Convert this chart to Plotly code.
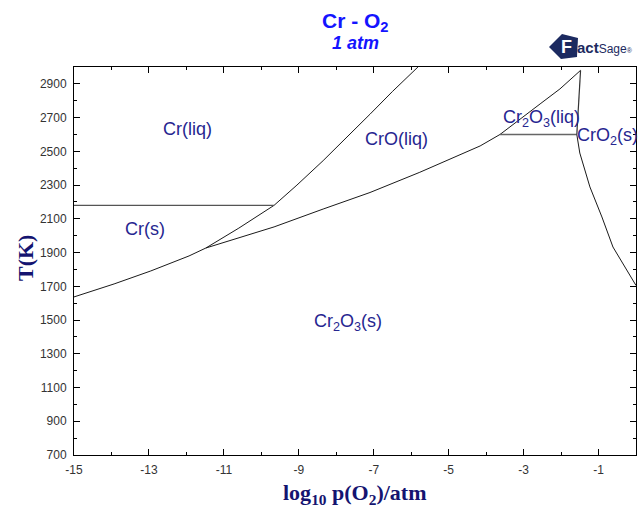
import plotly.graph_objects as go

# ---------------- data ----------------
# Cr(s) / Cr2O3(s) boundary up to the eutectic-like point
cr_s_x = [-15.0, -13.93, -12.95, -11.93, -11.48]
cr_s_T = [1637, 1714, 1791, 1880, 1927]

# CrO(liq) / Cr2O3 boundary (lower branch, continuing to top)
cro_x = [-11.48, -9.66, -8.35, -7.10, -5.77, -4.89, -4.16, -3.63, -3.10, -2.56, -2.03, -1.48]
cro_T = [1927, 2052, 2158, 2256, 2376, 2460, 2532, 2600, 2692, 2781, 2870, 2980]

# Cr(s)/Cr(liq) / CrO(liq) boundary (upper branch)
crliq_x = [-11.48, -10.6, -9.66, -9.05, -8.35, -7.70, -7.10, -6.50, -5.82]
crliq_T = [1927, 2045, 2180, 2300, 2445, 2585, 2720, 2855, 3000]

# Cr melting line
crmelt_x = [-15.0, -9.66]
crmelt_T = [2180, 2180]

# Cr2O3 melting line
cr2o3melt_x = [-3.63, -1.58]
cr2o3melt_T = [2600, 2600]

# Cr2O3(liq) / CrO2(s) upper line
top_x = [-1.48, -1.58]
top_T = [2980, 2600]

# CrO2(s) / Cr2O3(s) boundary
cro2_x = [-1.58, -1.50, -1.23, -0.91, -0.615, -0.03, 0.0]
cro2_T = [2600, 2490, 2289, 2111, 1933, 1720, 1705]

# phase labels
label_text = ["Cr(liq)", "Cr(s)", "CrO(liq)", "Cr<sub>2</sub>O<sub>3</sub>(liq)",
              "Cr<sub>2</sub>O<sub>3</sub>(s)"]
label_x = [-11.96, -13.1, -6.38, -2.51, -7.69]
label_T = [2632, 2040, 2573, 2692, 1488]
cro2_label = "CrO<sub>2</sub>(s)"
cro2_label_x = -1.62
cro2_label_T = 2591

x_tickvals = [-15, -13, -11, -9, -7, -5, -3, -1]
x_ticktext = ["-15", "-13", "-11", "-9", "-7", "-5", "-3", "-1"]
y_tickvals = [700, 900, 1100, 1300, 1500, 1700, 1900, 2100, 2300, 2500, 2700, 2900]
y_ticktext = [str(v) for v in y_tickvals]

# ---------------- layout constants ----------------
W, H = 639, 512
L, R, T, B = 74, 3, 67, 57
PW = W - L - R
PH = H - T - B


def px(xp):
    return (xp - L) / PW


def py(yp):
    return (H - B - yp) / PH


fig = go.Figure()

line_col = "#1a1a1a"
for xs, ts, col, w in [
    (cr_s_x, cr_s_T, line_col, 1),
    (cro_x, cro_T, line_col, 1),
    (crliq_x, crliq_T, line_col, 1),
    (crmelt_x, crmelt_T, "#555555", 1.1),
    (cr2o3melt_x, cr2o3melt_T, "#666666", 1.4),
    (top_x, top_T, "#333333", 1.2),
    (cro2_x, cro2_T, line_col, 1),
]:
    fig.add_trace(go.Scatter(x=xs, y=ts, mode="lines",
                             line=dict(color=col, width=w),
                             showlegend=False, hoverinfo="skip"))

lab_font = dict(family="Liberation Sans, Arial", size=18, color="#262690")
for t, x, y in zip(label_text, label_x, label_T):
    fig.add_annotation(x=x, y=y, text=t, showarrow=False, font=lab_font,
                       xanchor="center", yanchor="middle")
fig.add_annotation(x=cro2_label_x, y=cro2_label_T, text=cro2_label, showarrow=False,
                   font=lab_font, xanchor="left", yanchor="middle")

# titles
fig.add_annotation(xref="paper", yref="paper", x=px(355), y=py(22),
                   text="<b>Cr - O<sub>2</sub></b>", showarrow=False,
                   font=dict(family="Liberation Sans, Arial", size=21, color="#1414ff"),
                   xanchor="center", yanchor="middle")
fig.add_annotation(xref="paper", yref="paper", x=px(355), y=py(43),
                   text="<b><i>1 atm</i></b>", showarrow=False,
                   font=dict(family="Liberation Sans, Arial", size=18, color="#1414ff"),
                   xanchor="center", yanchor="middle")

# axis titles
axis_title_font = dict(family="Liberation Serif, Times New Roman", size=22, color="#141470")
fig.add_annotation(xref="paper", yref="paper", x=px(355), y=py(494),
                   text="<b>log<sub>10</sub> p(O<sub>2</sub>)/atm</b>", showarrow=False,
                   font=axis_title_font, xanchor="center", yanchor="middle")
fig.add_annotation(xref="paper", yref="paper", x=px(25), y=py(258),
                   text="<b>T(K)</b>", showarrow=False, textangle=-90,
                   font=axis_title_font, xanchor="center", yanchor="middle")

# FactSage logo
pts = [(549, 47), (562, 34), (578, 38), (577, 57), (561, 59)]
path = "M " + " L ".join(f"{px(a):.4f},{py(b):.4f}" for a, b in pts) + " Z"
fig.add_shape(type="path", path=path, xref="paper", yref="paper",
              fillcolor="#1c2a60", line=dict(width=0))
fig.add_annotation(xref="paper", yref="paper", x=px(566), y=py(47),
                   text="<b>F</b>", showarrow=False,
                   font=dict(family="Liberation Sans, Arial", size=18, color="white"),
                   xanchor="center", yanchor="middle")
fig.add_annotation(xref="paper", yref="paper", x=px(575), y=py(48),
                   text="<b>act</b><span style='font-size:12px'>Sage</span>"
                        "<span style='font-size:7px'>®</span>",
                   showarrow=False,
                   font=dict(family="Liberation Sans, Arial", size=15, color="#1c2a60"),
                   xanchor="left", yanchor="middle")

axis_common = dict(showgrid=False, zeroline=False, showline=True, linecolor="black",
                   linewidth=1, mirror="ticks", ticks="inside", ticklen=6, tickwidth=1,
                   tickcolor="black",
                   tickfont=dict(family="Liberation Sans, Arial", size=12, color="#333333"))

fig.update_xaxes(range=[-15, 0], tickvals=x_tickvals, ticktext=x_ticktext,
                 minor=dict(ticks="inside", ticklen=3, tickwidth=1, tickcolor="black",
                            tickvals=[-14, -12, -10, -8, -6, -4, -2]),
                 ticklabelstandoff=4, **axis_common)
fig.update_yaxes(range=[700, 3000], tickvals=y_tickvals, ticktext=y_ticktext,
                 minor=dict(ticks="inside", ticklen=3, tickwidth=1, tickcolor="black",
                            tickvals=[800, 1000, 1200, 1400, 1600, 1800, 2000, 2200,
                                      2400, 2600, 2800]),
                 ticklabelstandoff=4, **axis_common)

fig.update_layout(width=W, height=H, margin=dict(l=L, r=R, t=T, b=B),
                  paper_bgcolor="white", plot_bgcolor="white", showlegend=False)

fig.write_html("out.html")
